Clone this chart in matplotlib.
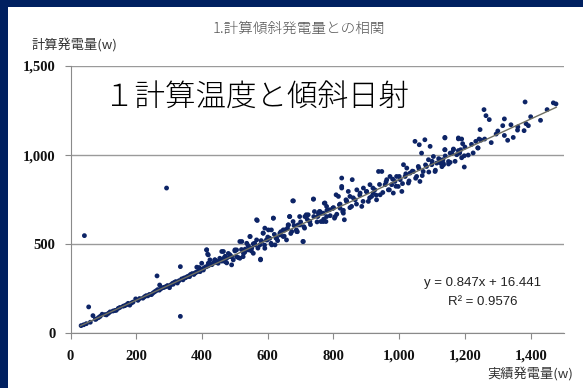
import matplotlib.pyplot as plt
import matplotlib.patches as mpatches
import numpy as np

# 実績発電量 (x) と 計算発電量 (y), 図から読み取った値
actual = [
    32, 48, 55, 68, 78, 96, 109, 129, 139, 165, 180, 198, 220, 230, 246, 263, 271, 281, 301, 312,
    334, 334, 342, 362, 378, 391, 292, 42, 414, 417,
    40, 60, 75, 85, 90, 105, 115, 120, 135, 145, 150, 160, 170, 175, 185, 190, 205, 210, 225, 235,
    240, 250, 255, 260, 265, 270, 275, 285, 290, 295, 305, 310, 315, 320, 325, 330, 338, 345, 350, 355,
    360, 365, 370, 375, 380, 385, 390, 395, 400, 405, 410, 415, 420, 425, 430, 435, 440, 445, 450, 455,
    384, 414, 419, 439, 460, 466, 485, 505, 515, 525, 531, 546, 541, 556, 566, 578, 581, 586, 591, 602,
    598, 617, 612, 625, 637, 647, 657, 666, 663, 673, 678, 688, 698, 708, 713, 723, 728, 739, 754, 759,
    774, 769, 779,
    394, 404, 399, 419, 424, 439, 449, 454, 465, 470, 475, 485, 490, 495, 500, 505, 515, 521, 526, 536,
    541, 546, 551, 556, 561, 566, 568, 576, 578, 586, 591, 596, 606, 611, 617, 622, 627, 637, 647, 652,
    662, 667, 677, 676, 687, 692, 697, 707, 712, 717, 727, 739, 742, 752, 757, 762, 772, 777, 788, 798,
    803, 808, 818, 825, 825, 828, 833, 838,
    460, 470, 475, 480, 490, 500, 510, 520, 530, 540, 550, 560, 570, 580, 590, 600, 610, 620, 630, 640,
    650, 660, 670, 680, 690, 700, 710, 720, 730, 740, 750, 760, 770, 780, 790, 800, 810, 820, 830, 840,
    850, 860, 870, 880, 890, 900, 910, 920, 930, 940, 950, 960, 970, 980, 990, 1000, 1010, 1020, 1030, 1040,
    1050, 1060, 1070, 1080, 1090, 1100, 1110, 1120, 1130, 1140, 1150, 1160, 1170, 1180, 1190, 1200, 1210, 1220, 1240, 1260,
    1280, 1300, 1320, 1340, 1360, 1400, 1430, 1450,
    769, 779, 805, 799, 815, 820, 825, 830, 840, 845, 850, 855, 857, 866, 871, 881, 886, 891, 901, 906,
    911, 916, 921, 926, 931, 937, 947, 942, 957, 962, 967, 972, 977, 982, 987, 992, 997, 1003, 1008, 1013,
    1018, 1023, 1028, 1033, 1043, 1048, 1053, 1058, 1061, 1063, 1068, 1073, 1078, 1083, 1089, 1094, 1099, 1104, 1109, 1114,
    1124, 1134, 1139, 1139, 1150, 1155, 1165, 1175, 1180,
    1383, 1469, 1477, 1258, 1264, 1274, 1320, 1315, 1295, 1246, 1243, 1249, 1233, 1239, 1225, 1180, 1190, 1193, 1187, 1184,
    1198, 1165, 1160, 1139, 1139, 1155, 1133, 1125, 1135, 1198, 1330, 1347, 1361, 1380, 1386, 1393,
]
calc = [
    43, 54, 148, 99, 80, 107, 103, 125, 129, 155, 158, 193, 197, 211, 217, 322, 271, 256, 256, 275,
    374, 95, 300, 318, 337, 369, 815, 548, 468, 444,
    48, 62, 78, 88, 95, 105, 112, 120, 128, 140, 145, 152, 160, 168, 170, 175, 185, 195, 205, 210,
    218, 225, 232, 238, 245, 242, 250, 258, 262, 268, 272, 280, 285, 290, 282, 295, 305, 310, 312, 318,
    322, 330, 335, 330, 340, 345, 350, 360, 358, 365, 372, 375, 380, 388, 385, 395, 400, 398, 405, 410,
    371, 468, 440, 412, 459, 421, 440, 468, 515, 430, 472, 543, 489, 502, 637, 416, 515, 562, 590, 580,
    524, 646, 496, 534, 552, 580, 524, 655, 608, 571, 743, 571, 608, 515, 655, 665, 627, 753, 674, 683,
    731, 627, 655,
    346, 355, 393, 393, 412, 412, 393, 421, 459, 402, 421, 430, 384, 412, 468, 430, 421, 515, 449, 505,
    468, 543, 477, 449, 496, 524, 633, 496, 412, 562, 477, 524, 533, 580, 646, 496, 533, 562, 543, 580,
    608, 655, 627, 743, 580, 608, 655, 515, 590, 665, 627, 753, 683, 655, 683, 627, 730, 627, 693, 702,
    646, 777, 721, 871, 815, 683, 637, 749,
    405, 432, 395, 448, 430, 462, 425, 470, 455, 492, 462, 505, 478, 520, 495, 540, 505, 555, 520, 570,
    545, 590, 560, 605, 570, 625, 598, 640, 610, 655, 625, 672, 640, 690, 660, 705, 668, 725, 690, 742,
    705, 760, 725, 775, 740, 795, 760, 815, 775, 835, 790, 850, 805, 865, 825, 880, 840, 895, 855, 910,
    870, 925, 885, 945, 905, 965, 915, 980, 935, 995, 950, 1010, 965, 1025, 985, 1045, 1000, 1060, 1040, 1090,
    1070, 1135, 1110, 1170, 1140, 1215, 1195, 1255,
    674, 712, 655, 702, 768, 702, 824, 674, 740, 796, 768, 712, 862, 749, 805, 787, 712, 815, 796, 740,
    834, 768, 787, 805, 749, 908, 908, 777, 834, 862, 805, 880, 834, 787, 852, 880, 824, 862, 796, 946,
    880, 927, 843, 899, 908, 1077, 880, 936, 1058, 852, 1011, 908, 1086, 936, 974, 1049, 946, 992, 908, 955,
    974, 955, 1096, 1030, 964, 1011, 1030, 1002, 1091,
    1298, 1293, 1287, 1255, 1221, 1199, 1203, 1165, 1118, 1143, 1090, 1084, 1077, 1040, 1012, 1096, 1090, 1064, 1030, 1012,
    996, 1034, 1012, 1099, 1030, 959, 974, 955, 946, 933, 1083, 1099, 1158, 1137, 1176, 1165,
]

slope = 0.847
intercept = 16.441
fit_x = [30, 1478]

navy = '#002060'

fig = plt.figure(figsize=(5.83, 3.88), dpi=100)
fig.patch.set_facecolor(navy)
fig.patches.append(mpatches.Rectangle((8 / 583, 0), 1, 1 - 7 / 388, transform=fig.transFigure,
                                      facecolor='white', edgecolor='none', zorder=-5))

ax = fig.add_axes([0.1211, 0.141, 0.8455, 0.689])
ax.set_facecolor('none')
ax.set_xlim(0, 1500)
ax.set_ylim(0, 1500)

ax.set_yticks([0, 500, 1000, 1500])
ax.set_xticks(range(0, 1401, 200))
ax.set_yticklabels(['0', '500', '1,000', '1,500'])
ax.set_xticklabels(['0', '200', '400', '600', '800', '1,000', '1,200', '1,400'])
ax.grid(axis='y', color='#9a9a9a', lw=1)
ax.set_axisbelow(True)
for s in ['top', 'right']:
    ax.spines[s].set_visible(False)
for s in ['left', 'bottom']:
    ax.spines[s].set_color('#8a8a8a')
ax.tick_params(colors='#8a8a8a', length=4, labelcolor='black')
ax.tick_params(axis='x', pad=8)
ax.tick_params(axis='y', pad=7)
for lab in ax.get_xticklabels() + ax.get_yticklabels():
    lab.set_family('Liberation Serif')
    lab.set_fontweight('bold')
    lab.set_fontsize(10.5)
    lab.set_color('#111111')

ax.scatter(actual, calc, s=12, color='#0d2466', edgecolors='none', zorder=3)
ax.plot(fit_x, [slope * v + intercept for v in fit_x], color='#6f6f62', lw=1, zorder=4)

cjk = ['Noto Sans CJK JP', 'DejaVu Sans']
fig.text(299 / 583, 1 - 29 / 388, '1.計算傾斜発電量との相関', family=cjk, fontsize=10.5,
         color='#555555', ha='center', va='center', fontweight='light')
fig.text(32 / 583, 1 - 45 / 388, '計算発電量(w)', family=cjk, fontsize=9.5,
         color='#333333', ha='left', va='center')
fig.text(487 / 583, 1 - 374 / 388, '実績発電量(w)', family=cjk, fontsize=9.5,
         color='#333333', ha='left', va='center')
fig.text(104 / 583, 1 - 97 / 388, '１計算温度と傾斜日射', family=cjk, fontsize=22,
         color='black', ha='left', va='center', fontweight='light')
fig.text(483 / 583, 1 - 283 / 388, 'y = 0.847x + 16.441', family='Liberation Sans', fontsize=9.5,
         color='#222222', ha='center', va='center')
fig.text(483 / 583, 1 - 302 / 388, 'R² = 0.9576', family='Liberation Sans', fontsize=9.5,
         color='#222222', ha='center', va='center')

fig.savefig('out.png', dpi=100, facecolor=fig.get_facecolor())
